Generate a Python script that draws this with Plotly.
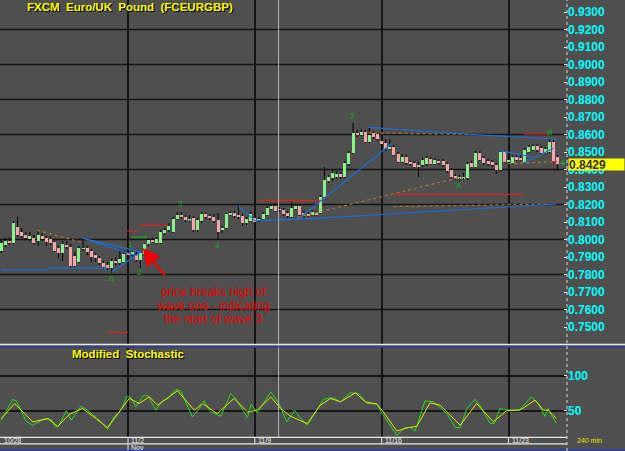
import plotly.graph_objects as go

# ---------------- data ----------------
bar_index = list(range(137))
opens = [0.7934,0.7969,0.7991,0.7980,0.8071,0.8043,0.8026,0.8003,0.8009,0.7991,
0.8020,0.8009,0.8003,0.7986,0.7951,0.7923,0.7969,0.7957,0.7906,0.7871,
0.7946,0.7951,0.7934,0.7911,0.7894,0.7866,0.7854,0.7837,0.7877,0.7866,
0.7871,0.7923,0.7917,0.7911,0.7883,0.7917,0.7974,0.7997,0.7980,0.7980,
0.8037,0.8054,0.8043,0.8117,0.8140,0.8129,0.8111,0.8123,0.8054,0.8106,
0.8146,0.8134,0.8129,0.8111,0.8054,0.8066,0.8140,0.8151,0.8140,0.8134,
0.8094,0.8106,0.8123,0.8106,0.8117,0.8140,0.8174,0.8191,0.8174,0.8169,
0.8151,0.8129,0.8174,0.8191,0.8151,0.8146,0.8140,0.8151,0.8151,0.8243,
0.8334,0.8351,0.8357,0.8374,0.8357,0.8431,0.8494,0.8609,0.8597,0.8614,
0.8557,0.8609,0.8603,0.8563,0.8551,0.8517,0.8529,0.8489,0.8443,0.8471,
0.8443,0.8437,0.8426,0.8426,0.8431,0.8460,0.8431,0.8449,0.8449,0.8431,
0.8397,0.8363,0.8351,0.8357,0.8351,0.8437,0.8414,0.8494,0.8466,0.8449,
0.8443,0.8426,0.8397,0.8500,0.8443,0.8437,0.8471,0.8466,0.8437,0.8500,
0.8511,0.8534,0.8523,0.8494,0.8500,0.8557,0.8471]
closes = [0.7980,0.7991,0.7980,0.8094,0.8026,0.8020,0.8009,0.8020,0.7980,0.8026,
0.8003,0.7986,0.7980,0.7934,0.7923,0.7974,0.7957,0.7849,0.7849,0.7951,
0.7951,0.7929,0.7900,0.7894,0.7866,0.7843,0.7837,0.7877,0.7866,0.7889,
0.7917,0.7911,0.7929,0.7883,0.7923,0.7974,0.7997,0.7986,0.8003,0.8043,
0.8054,0.8077,0.8117,0.8140,0.8129,0.8111,0.8117,0.8054,0.8111,0.8146,
0.8129,0.8123,0.8106,0.8043,0.8066,0.8146,0.8151,0.8134,0.8129,0.8094,
0.8117,0.8146,0.8100,0.8117,0.8146,0.8180,0.8191,0.8163,0.8169,0.8146,
0.8134,0.8180,0.8191,0.8140,0.8134,0.8134,0.8157,0.8140,0.8243,0.8340,
0.8357,0.8380,0.8374,0.8357,0.8437,0.8494,0.8609,0.8597,0.8614,0.8557,
0.8597,0.8586,0.8574,0.8546,0.8517,0.8529,0.8483,0.8443,0.8471,0.8437,
0.8431,0.8414,0.8414,0.8454,0.8466,0.8431,0.8454,0.8437,0.8426,0.8391,
0.8357,0.8351,0.8357,0.8351,0.8431,0.8414,0.8494,0.8454,0.8437,0.8431,
0.8426,0.8397,0.8500,0.8443,0.8454,0.8471,0.8454,0.8454,0.8511,0.8529,
0.8534,0.8511,0.8494,0.8517,0.8557,0.8443,0.8429]
highs = [0.7997,0.8009,0.8014,0.8106,0.8129,0.8066,0.8043,0.8043,0.8026,0.8054,
0.8037,0.8020,0.8020,0.7997,0.7963,0.7991,0.7991,0.7974,0.7929,0.7963,
0.8009,0.7963,0.7946,0.7923,0.7906,0.7877,0.7871,0.7889,0.7900,0.7934,
0.7940,0.7934,0.7946,0.7929,0.7929,0.7980,0.8009,0.8009,0.8014,0.8054,
0.8066,0.8094,0.8129,0.8157,0.8157,0.8140,0.8140,0.8134,0.8123,0.8157,
0.8157,0.8146,0.8146,0.8151,0.8077,0.8151,0.8163,0.8163,0.8197,0.8146,
0.8129,0.8157,0.8134,0.8129,0.8157,0.8191,0.8203,0.8209,0.8186,0.8180,
0.8163,0.8214,0.8203,0.8203,0.8163,0.8157,0.8169,0.8163,0.8254,0.8414,
0.8369,0.8397,0.8391,0.8386,0.8449,0.8506,0.8666,0.8626,0.8632,0.8626,
0.8643,0.8620,0.8614,0.8574,0.8574,0.8574,0.8540,0.8500,0.8489,0.8483,
0.8454,0.8449,0.8443,0.8466,0.8477,0.8471,0.8466,0.8460,0.8460,0.8443,
0.8409,0.8374,0.8369,0.8380,0.8443,0.8449,0.8506,0.8506,0.8477,0.8460,
0.8454,0.8437,0.8511,0.8511,0.8466,0.8483,0.8483,0.8489,0.8523,0.8540,
0.8546,0.8546,0.8534,0.8529,0.8574,0.8569,0.8483]
lows = [0.7923,0.7957,0.7969,0.7974,0.8014,0.8009,0.7997,0.7991,0.7969,0.7963,
0.7991,0.7963,0.7969,0.7929,0.7894,0.7877,0.7946,0.7837,0.7843,0.7866,
0.7934,0.7911,0.7871,0.7871,0.7854,0.7831,0.7826,0.7809,0.7854,0.7854,
0.7866,0.7900,0.7906,0.7871,0.7837,0.7911,0.7963,0.7980,0.7974,0.7974,
0.8026,0.8043,0.8037,0.8111,0.8117,0.8100,0.8100,0.8043,0.8043,0.8094,
0.8117,0.8111,0.8094,0.7997,0.8037,0.8060,0.8134,0.8123,0.8117,0.8077,
0.8083,0.8100,0.8094,0.8100,0.8111,0.8134,0.8169,0.8157,0.8157,0.8134,
0.8123,0.8123,0.8169,0.8129,0.8123,0.8129,0.8134,0.8134,0.8146,0.8237,
0.8323,0.8334,0.8346,0.8346,0.8351,0.8420,0.8489,0.8586,0.8591,0.8551,
0.8551,0.8574,0.8563,0.8534,0.8506,0.8511,0.8477,0.8437,0.8437,0.8426,
0.8420,0.8409,0.8357,0.8414,0.8420,0.8426,0.8426,0.8426,0.8414,0.8380,
0.8346,0.8340,0.8334,0.8340,0.8340,0.8409,0.8409,0.8449,0.8426,0.8420,
0.8414,0.8374,0.8386,0.8437,0.8431,0.8431,0.8449,0.8449,0.8431,0.8494,
0.8506,0.8500,0.8483,0.8489,0.8494,0.8437,0.8397]

last_price = 0.8429
price_ticks = [0.75,0.76,0.77,0.78,0.79,0.80,0.81,0.82,0.83,0.84,
               0.85,0.86,0.87,0.88,0.89,0.90,0.91,0.92,0.93]
price_grid = [0.76,0.78,0.80,0.82,0.84,0.86,0.88,0.90,0.92]
week_starts = [31, 62, 93, 124]
date_labels = ["10/28", "11/2", "11/9", "11/16", "11/23"]
date_label_pos = [0, 31, 62, 93, 124]
marker_bar = 67.8

stoch_green_x = [0,2.8,3.7,6.1,7.7,10.6,12.2,13.2,14,15.9,17.1,19.5,21.1,24.4,26,27.6,29.3,30.7,31.7,32.9,
                 34.6,35.8,37.8,39.4,40.7,42.7,43.9,46.7,48.4,49.6,51.2,53.7,56.1,57.3,60.2,61.1,62.6,65.9,67.9,69.8,
                 71.7,73.1,74.8,77.2,78.8,80.9,82.9,85.3,87.4,89.4,91.8,93.1,95.1,96.7,98.7,100,101.2,103.6,105.7,108.9,
                 111,112.2,113.8,115.8,117,119.5,120.5,121.9,122.7,124.4,126.8,129.6,131.3,132.9,133.7,134.5,135.7]
stoch_green_y = [36.7,66.3,64.4,35.2,29.5,39,37.6,27.2,28,50.3,36.7,56.7,51,34.3,23.4,41.4,51,71,69,55.7,
                 71,72.4,51,64.4,67.2,80.5,78.6,41.4,53.4,64.4,48.6,42.4,74.8,67.7,40.5,59.6,47.1,77.2,60.5,34.3,
                 51,40,29.5,51,66.3,69,62.9,75.7,74.8,60.5,60.5,46.2,28.1,15.3,26.3,26.3,21.5,64.4,62.9,46.2,
                 26.3,26.3,53.4,66.3,58.1,32,32,53.4,52,51,52,70,60.5,42.4,53.4,43.8,32.9]
stoch_yellow_x = [0,3.3,7.7,11.4,13.8,16.7,19.9,26,31.3,33.7,36.2,38.2,43.1,47.2,49.2,52.8,56.9,60.2,62.6,65.9,
                  68.3,70.7,74.8,78,80.5,82.9,86.6,89,91.8,93.1,96.7,99.6,101.6,104.8,107.3,112.2,116.2,120.3,123.5,
                  126.8,130.5,132.5,133.7,135.7]
stoch_yellow_y = [39,60.5,34.3,39,28,45.3,53.4,26.3,67.7,60.5,70,58.1,78.6,51,60.5,46.2,67.7,48.6,51,70,
                  53.4,42.4,32,58.1,67.7,62.9,75.7,62.9,59.6,51,21.5,26.3,28,61.5,58.1,29.5,60.5,34.3,50.2,
                  51,65.3,51,51,39]

# trend lines drawn on the chart: (bar0, price0, bar1, price1)
blue_lines = [(0,0.7826,11.4,0.7826),(11.4,0.7836,26,0.7836),
              (19.9,0.8007,34.1,0.7929),(19.9,0.8007,33.2,0.7906),(27,0.7814,34.1,0.7929),
              (57.9,0.8192,61.8,0.8112),(61.8,0.8108,77.2,0.8121),(77.2,0.8121,135.6,0.8203),
              (73.2,0.8127,95.5,0.8550),(89.8,0.8641,113,0.8603),(113,0.8603,135.8,0.8573),
              (121.8,0.8508,129.7,0.8473),(127.6,0.8436,135,0.8521)]
brown_lines = [(8.8,0.8052,20.0,0.7982),(72.4,0.8127,112.2,0.8355),(95.9,0.8188,134.1,0.8203),
               (123.9,0.8433,135.6,0.8445),(89.8,0.8609,113.9,0.8601)]
red_lines = [(30.7,0.8049,32.9,0.8049),(33.7,0.8081,40.7,0.8081),(25.9,0.7470,31,0.7470),
             (62.8,0.8224,78,0.8224),(127.8,0.8603,133.7,0.8603),(95.9,0.8258,127.8,0.8258),
             (134.5,0.8445,135.8,0.8445)]
green_lines = [(31.9,0.8014,35.8,0.8014)]

wave_labels = ["1", "2", "B", "3", "4", "5", "A", "B"]
wave_x = [31.7, 33.9, 27.0, 43.9, 52.9, 85.8, 112.0, 133.9]
wave_y = [0.7969, 0.7809, 0.7775, 0.8203, 0.7965, 0.8706, 0.8307, 0.8610]

note_lines = ["price breaks high of", "wave one - indicating", "the start of wave 3"]

# ---------------- styling ----------------
BG = "#4f4f4f"
UP = "#8cf08c"
DOWN = "#f5a8ab"
GRID = "#151515"
FONT = "Liberation Sans, Arial, sans-serif"
XMAX = 138.3
XD = 567 / 625
W, H = 625, 451
def py(px):  # paper y from pixel row
    return 1 - px / H

fig = go.Figure()

# wicks: only the parts outside the body (bars are always drawn under lines in plotly)
wx, wy = [], []
for i, o, c, hi, lo in zip(bar_index, opens, closes, highs, lows):
    top, bot = max(o, c), min(o, c)
    if hi > top:
        wx += [i, i, None]
        wy += [top, hi, None]
    if lo < bot:
        wx += [i, i, None]
        wy += [lo, bot, None]
fig.add_trace(go.Scatter(x=wx, y=wy, mode="lines", line=dict(color="#000000", width=1),
                         hoverinfo="skip", xaxis="x", yaxis="y"))
# bodies
base = [min(o, c) for o, c in zip(opens, closes)]
height = [max(abs(c - o), 0.0003) for o, c in zip(opens, closes)]
colors = [UP if c >= o else DOWN for o, c in zip(opens, closes)]
fig.add_trace(go.Bar(x=bar_index, y=height, base=base, width=0.75,
                     marker=dict(color=colors, line=dict(width=0)), xaxis="x", yaxis="y"))

def add_segments(segs, color, dash="solid", width=1):
    for x0, p0, x1, p1 in segs:
        fig.add_trace(go.Scatter(x=[x0, x1], y=[p0, p1], mode="lines",
                                 line=dict(color=color, width=width, dash=dash),
                                 hoverinfo="skip", xaxis="x", yaxis="y"))

add_segments(brown_lines, "#b07a30", "dot", 1.2)
add_segments(blue_lines, "#1e6fdc", "solid", 1.2)
add_segments(red_lines, "#e02020", "solid", 1.2)
add_segments(green_lines, "#20b020", "solid", 1.2)

# stochastic
fig.add_trace(go.Scatter(x=stoch_green_x, y=stoch_green_y, mode="lines",
                         line=dict(color="#22dd22", width=1), xaxis="x2", yaxis="y2"))
fig.add_trace(go.Scatter(x=stoch_yellow_x, y=stoch_yellow_y, mode="lines",
                         line=dict(color="#e6e600", width=1), xaxis="x2", yaxis="y2"))

shapes = []
for g in price_grid:
    shapes.append(dict(type="line", xref="paper", yref="y", x0=0, x1=XD, y0=g, y1=g,
                       line=dict(color=GRID, width=1.5), layer="below"))
shapes.append(dict(type="line", xref="x", yref="paper", x0=marker_bar, x1=marker_bar,
                   y0=py(437), y1=1, line=dict(color="#b4b4b4", width=1)))
shapes.append(dict(type="line", xref="paper", yref="paper", x0=0, x1=1, y0=py(344.5), y1=py(344.5),
                   line=dict(color="#e8e8e8", width=1.5)))
shapes.append(dict(type="line", xref="paper", yref="paper", x0=0, x1=1, y0=py(346.8), y1=py(346.8),
                   line=dict(color="#2a3a9a", width=1.2)))
shapes.append(dict(type="line", xref="paper", yref="paper", x0=0, x1=XD, y0=py(437.3), y1=py(437.3),
                   line=dict(color="#e8e8e8", width=1.2)))
shapes.append(dict(type="line", xref="paper", yref="paper", x0=0, x1=XD, y0=py(443.8), y1=py(443.8),
                   line=dict(color="#e8e8e8", width=1.2)))
shapes.append(dict(type="line", xref="paper", yref="paper", x0=0, x1=1, y0=py(450.3), y1=py(450.3),
                   line=dict(color="#2a3aba", width=1.5)))
shapes.append(dict(type="line", xref="paper", yref="paper", x0=XD, x1=XD, y0=0, y1=1,
                   line=dict(color="#d8d8d8", width=1, dash="dot")))
for xv in week_starts:
    shapes.append(dict(type="line", xref="x", yref="paper", x0=xv, x1=xv, y0=py(443.8), y1=py(437.3),
                       line=dict(color="#e8e8e8", width=1)))
shapes.append(dict(type="line", xref="x", yref="paper", x0=31, x1=31, y0=py(450), y1=py(443.8),
                   line=dict(color="#e8e8e8", width=1)))

ann = []
ann.append(dict(xref="paper", yref="paper", x=25 / W, y=py(7), xanchor="left", yanchor="middle",
                text="FXCM&nbsp;&nbsp;Euro/UK&nbsp;&nbsp;Pound&nbsp;&nbsp;(FCEURGBP)", showarrow=False,
                font=dict(family=FONT, size=11.5, color="#ffff00", weight="bold", shadow="1px 1px 0px #000")))
ann.append(dict(xref="paper", yref="paper", x=70 / W, y=py(354), xanchor="left", yanchor="middle",
                text="Modified&nbsp;&nbsp;Stochastic", showarrow=False,
                font=dict(family=FONT, size=11.5, color="#ffff00", weight="bold", shadow="1px 1px 0px #000")))
for t, xv in zip(date_labels, date_label_pos):
    ann.append(dict(xref="x", yref="paper", x=xv, y=py(440.6), xanchor="left", yanchor="middle",
                    xshift=1, text=t, showarrow=False, font=dict(family=FONT, size=7, color="#f0f0f0")))
ann.append(dict(xref="x", yref="paper", x=31, y=py(447), xanchor="left", yanchor="middle", xshift=1,
                text="Nov", showarrow=False, font=dict(family=FONT, size=7, color="#f0f0f0")))
ann.append(dict(xref="paper", yref="paper", x=575 / W, y=py(440.5), xanchor="left", yanchor="middle",
                text="240 min", showarrow=False, font=dict(family=FONT, size=7, color="#e6e600")))
ann.append(dict(xref="paper", yref="y", x=XD + 0.002, y=last_price, xanchor="left", yanchor="middle",
                text="%.4f" % last_price, showarrow=False, bgcolor="#ffff00", width=55, height=11,
                align="left", borderpad=0,
                font=dict(family=FONT, size=12, color="#333333", weight="bold")))
ann.append(dict(xref="paper", yref="y", x=563 / W, y=last_price + 0.0006, xanchor="center", yanchor="middle",
                text="+", showarrow=False, font=dict(family=FONT, size=10, color="#20c020")))
for t, xv, yv in zip(wave_labels, wave_x, wave_y):
    ann.append(dict(xref="x", yref="y", x=xv, y=yv, text=t, showarrow=False,
                    font=dict(family=FONT, size=8, color="#10b010")))
for k, t in enumerate(note_lines):
    ann.append(dict(xref="paper", yref="paper", x=213 / W, y=py(292.3 + 13.4 * k), xanchor="center",
                    yanchor="middle", text=t, showarrow=False,
                    font=dict(family=FONT, size=12, color="#e80000")))
ann.append(dict(xref="x", yref="y", x=34.6, y=0.7952, ax=23, ay=29, text="", showarrow=True,
                arrowhead=2, arrowsize=1.6, arrowwidth=2.2, arrowcolor="#ee0000"))

fig.update_layout(
    width=W, height=H, margin=dict(l=0, r=0, t=0, b=0),
    paper_bgcolor=BG, plot_bgcolor=BG, showlegend=False, bargap=0,
    shapes=shapes, annotations=ann,
    xaxis=dict(domain=[0, XD], range=[-0.3, XMAX], anchor="y", tickvals=week_starts,
               showticklabels=False, ticks="", showgrid=True, gridcolor=GRID, gridwidth=1.5,
               zeroline=False, showline=False, fixedrange=True),
    xaxis2=dict(domain=[0, XD], range=[-0.3, XMAX], anchor="y2", tickvals=week_starts,
                showticklabels=False, ticks="", showgrid=True, gridcolor=GRID, gridwidth=1.5,
                zeroline=False, showline=False, matches="x"),
    yaxis=dict(domain=[py(344), 1], range=[0.93 - 332 / 1750, 0.93 + 12 / 1750], side="right",
               anchor="x", tickvals=price_ticks, ticktext=["%.4f" % v for v in price_ticks],
               tickfont=dict(family=FONT, size=12, color="#00ffff", weight="bold"),
               ticks="inside", ticklen=3, tickcolor="#e0e0e0", showgrid=False, zeroline=False,
               showline=False),
    yaxis2=dict(domain=[py(437.3), py(347.5)], range=[12.4, 140.3], side="right", anchor="x2",
                tickvals=[50, 100], ticktext=["50", "100"],
                tickfont=dict(family=FONT, size=12, color="#00ffff", weight="bold"),
                ticks="inside", ticklen=3, tickcolor="#e0e0e0", showgrid=True, gridcolor=GRID,
                gridwidth=1.5, zeroline=False, showline=False),
)

fig.write_html("out.html")
